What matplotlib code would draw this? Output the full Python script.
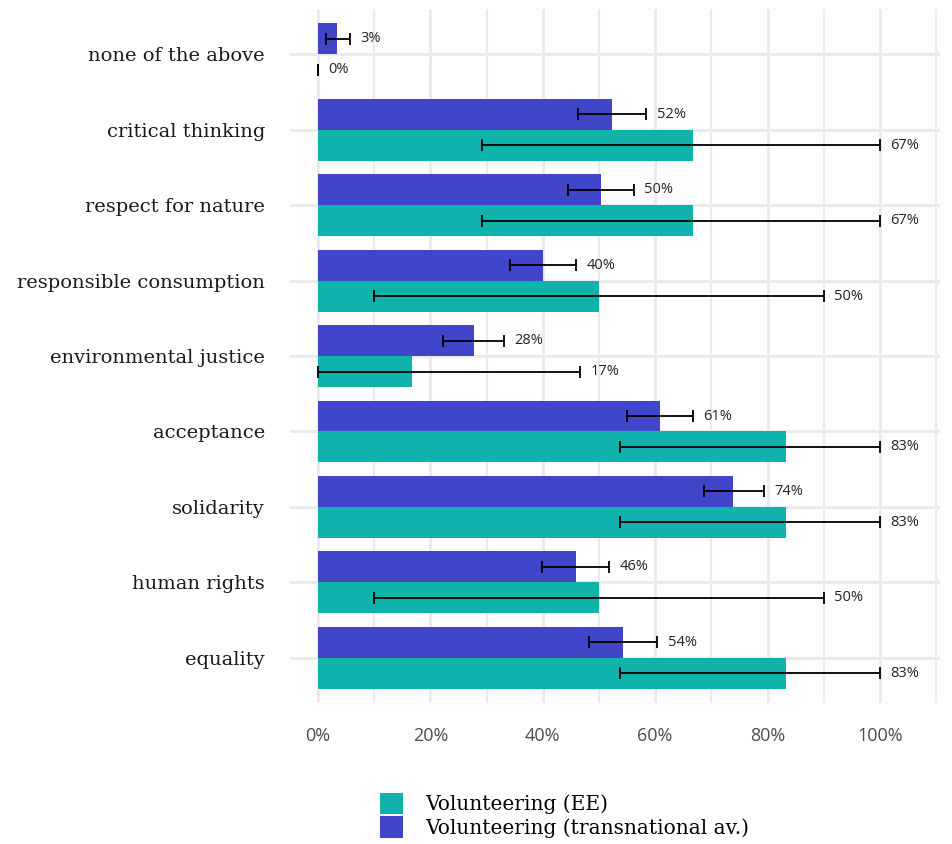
import matplotlib.pyplot as plt
import numpy as np
from matplotlib.patches import Patch

# Share of respondents naming each value, by group (percent)
categories = ['none of the above', 'critical thinking', 'respect for nature',
              'responsible consumption', 'environmental justice', 'acceptance',
              'solidarity', 'human rights', 'equality']

ee_value = [0.0, 66.7, 66.7, 50.0, 16.7, 83.3, 83.3, 50.0, 83.3]
ee_low = [0.0, 29.2, 29.2, 10.0, 0.0, 53.7, 53.7, 10.0, 53.7]
ee_high = [0.0, 100.0, 100.0, 90.0, 46.6, 100.0, 100.0, 90.0, 100.0]

trans_value = [3.4, 52.3, 50.4, 40.0, 27.8, 60.9, 73.8, 45.9, 54.2]
trans_low = [1.4, 46.3, 44.5, 34.2, 22.2, 55.0, 68.7, 39.9, 48.2]
trans_high = [5.7, 58.4, 56.2, 45.9, 33.1, 66.7, 79.4, 51.8, 60.3]

teal = '#10b3ac'
blue = '#4145c9'
grid_col = '#ebebeb'

fig = plt.figure(figsize=(9.52, 8.44), dpi=100)
ax = fig.add_axes([0.3046, 0.167, 0.6828, 0.8223])

y = np.arange(len(categories))
h = 0.41

ee_v = np.array(ee_value)
tr_v = np.array(trans_value)

ax.barh(y - h / 2, tr_v, height=h, color=blue, zorder=2)
ax.barh(y + h / 2, ee_v, height=h, color=teal, zorder=2)

# error bars
for vals, lo, hi, off in [(tr_v, trans_low, trans_high, -h / 2),
                          (ee_v, ee_low, ee_high, h / 2)]:
    lo = np.array(lo)
    hi = np.array(hi)
    ax.errorbar(vals, y + off, xerr=[vals - lo, hi - vals], fmt='none',
                ecolor='black', elinewidth=1.3, capsize=4, capthick=1.3, zorder=3)
    for yi, v, top in zip(y + off, vals, hi):
        ax.text(top + 1.9, yi, f'{v:.0f}%', ha='left', va='center',
                fontsize=10.5, family='Open Sans', color='#222222', zorder=4)

ax.set_yticks(y)
ax.set_yticklabels(categories, family='DejaVu Serif', fontsize=14, color='#1a1a1a')
ax.set_ylim(len(categories) - 1 + 0.6, -0.6)

ax.set_xlim(-5.0, 110.7)
ax.set_xticks(np.arange(0, 101, 20))
ax.set_xticks(np.arange(10, 111, 20), minor=True)
ax.set_xticklabels([f'{t}%' for t in range(0, 101, 20)],
                   family='Open Sans', fontsize=13, color='#4d4d4d')

ax.grid(True, which='major', axis='both', color=grid_col, linewidth=2.2, zorder=0)
ax.grid(True, which='minor', axis='x', color=grid_col, linewidth=1.6, zorder=0)
ax.set_axisbelow(True)
ax.tick_params(axis='both', which='both', length=0)
ax.tick_params(axis='x', pad=17)
ax.tick_params(axis='y', pad=18)
for s in ax.spines.values():
    s.set_visible(False)

handles = [Patch(facecolor=teal, label='Volunteering (EE)'),
           Patch(facecolor=blue, label='Volunteering (transnational av.)')]
fig.legend(handles=handles, loc='lower left', bbox_to_anchor=(0.38, -0.014),
           frameon=False, prop={'family': 'DejaVu Serif', 'size': 14.5},
           handlelength=1.15, handleheight=1.25, handletextpad=1.1, labelspacing=0.1)

fig.savefig('out.png', dpi=100)
